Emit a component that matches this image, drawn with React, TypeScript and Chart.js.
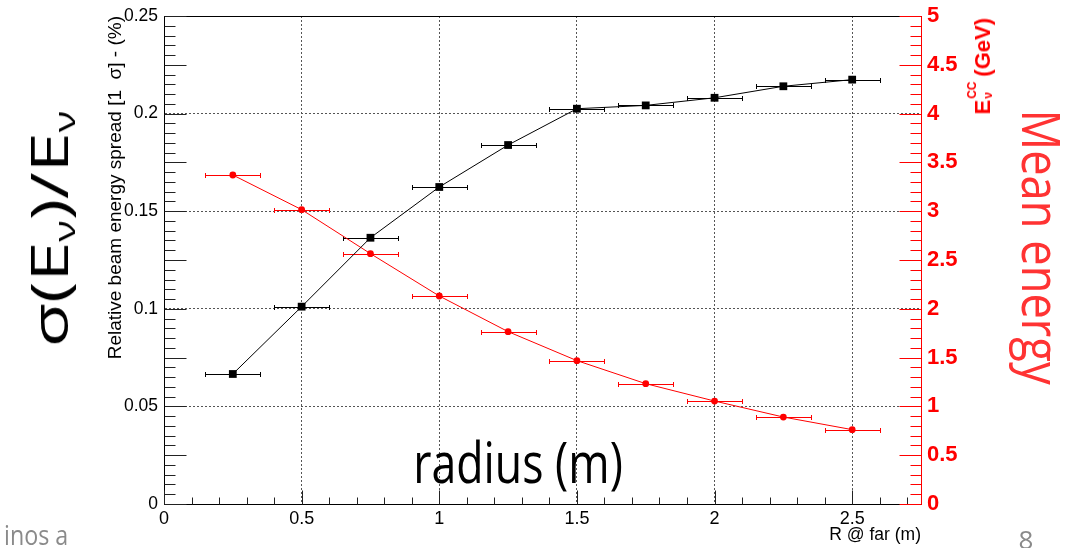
import React, { useEffect, useLayoutEffect, useRef, useState } from "react";
import { Chart, registerables } from "chart.js";

Chart.register(...registerables);

// ---------------- data ----------------
const radius = [0.25, 0.5, 0.75, 1.0, 1.25, 1.5, 1.75, 2.0, 2.25, 2.5];
const radiusErr = [0.1, 0.1, 0.1, 0.1, 0.1, 0.1, 0.1, 0.1, 0.1, 0.1];
const energySpread = [0.0666, 0.1011, 0.1364, 0.1624, 0.1839, 0.2025, 0.2042, 0.2081, 0.214, 0.2174];
const meanEnergy = [3.371, 3.016, 2.565, 2.131, 1.766, 1.469, 1.233, 1.055, 0.891, 0.762];

const xTicks = [0, 0.5, 1, 1.5, 2, 2.5];
const leftTicks = [0, 0.05, 0.1, 0.15, 0.2, 0.25];
const rightTicks = [0, 0.5, 1, 1.5, 2, 2.5, 3, 3.5, 4, 4.5, 5];
const xRange = [0, 2.75];
const leftRange = [0, 0.25];
const rightRange = [0, 5];
const xMinorStep = 0.1;
const leftMinorStep = 0.005;
const rightMinorStep = 0.1;

const SANS = "'Liberation Sans', Arial, Helvetica, sans-serif";
const COND = "'Open Sans', 'Noto Sans', sans-serif";

const fmt = (v: number) => String(Number(Number(v).toFixed(4)));

const rootPlugin = {
  id: "rootFrame",
  beforeDatasetsDraw(chart: any) {
    const { ctx, scales } = chart;
    const xs = scales.x;
    const series = [
      { yScale: scales.y, values: energySpread, color: "#000000" },
      { yScale: scales.y1, values: meanEnergy, color: "#ff0000" },
    ];
    ctx.save();
    ctx.lineWidth = 1;
    for (const s of series) {
      ctx.strokeStyle = s.color;
      ctx.beginPath();
      radius.forEach((r, i) => {
        const x1 = Math.round(xs.getPixelForValue(r - radiusErr[i])) + 0.5;
        const x2 = Math.round(xs.getPixelForValue(r + radiusErr[i])) + 0.5;
        const py = Math.round(s.yScale.getPixelForValue(s.values[i])) + 0.5;
        ctx.moveTo(x1, py);
        ctx.lineTo(x2, py);
        ctx.moveTo(x1, py - 2.5);
        ctx.lineTo(x1, py + 2.5);
        ctx.moveTo(x2, py - 2.5);
        ctx.lineTo(x2, py + 2.5);
      });
      ctx.stroke();
    }
    ctx.restore();
  },
  afterDatasetsDraw(chart: any) {
    const { ctx, chartArea: ca, scales } = chart;
    const L = Math.round(ca.left) + 0.5;
    const R = Math.round(ca.right) + 0.5;
    const T = Math.round(ca.top) + 0.5;
    const B = Math.round(ca.bottom) + 0.5;
    ctx.save();
    ctx.lineWidth = 1;
    ctx.setLineDash([]);
    // frame
    ctx.strokeStyle = "#000";
    ctx.beginPath();
    ctx.moveTo(L, B);
    ctx.lineTo(L, T);
    ctx.lineTo(R, T);
    ctx.moveTo(L, B);
    ctx.lineTo(R, B);
    ctx.stroke();

    // left ticks (inside)
    ctx.strokeStyle = "#222";
    ctx.beginPath();
    const nL = Math.round((leftRange[1] - leftRange[0]) / leftMinorStep);
    for (let k = 0; k <= nL; k++) {
      const v = leftRange[0] + k * leftMinorStep;
      const py = Math.round(scales.y.getPixelForValue(v)) + 0.5;
      const len = k % 5 === 0 ? 22 : 11;
      ctx.moveTo(L, py);
      ctx.lineTo(L + len, py);
    }
    ctx.stroke();

    // bottom ticks (inside)
    ctx.beginPath();
    const nX = Math.floor((xRange[1] - xRange[0]) / xMinorStep + 1e-6);
    for (let k = 0; k <= nX; k++) {
      const v = xRange[0] + k * xMinorStep;
      const px = Math.round(scales.x.getPixelForValue(v)) + 0.5;
      const len = k % 5 === 0 ? 14 : 7;
      ctx.moveTo(px, B);
      ctx.lineTo(px, B - len);
    }
    ctx.stroke();

    // right axis (red)
    ctx.strokeStyle = "#ff0000";
    ctx.beginPath();
    ctx.moveTo(R, T);
    ctx.lineTo(R, B);
    const nR = Math.round((rightRange[1] - rightRange[0]) / rightMinorStep);
    for (let k = 0; k <= nR; k++) {
      const v = rightRange[0] + k * rightMinorStep;
      const py = Math.round(scales.y1.getPixelForValue(v)) + 0.5;
      const len = k % 5 === 0 ? 22 : 11;
      ctx.moveTo(R, py);
      ctx.lineTo(R - len, py);
    }
    ctx.stroke();
    ctx.restore();
  },
};

function Overlay(props: {
  x: number;
  y: number;
  rotate?: number;
  length?: number;
  anchorX?: string;
  style?: React.CSSProperties;
  children: React.ReactNode;
}) {
  const { x, y, rotate = 0, length, anchorX = "-50%", style, children } = props;
  const ref = useRef<HTMLSpanElement>(null);
  const [s, setS] = useState(1);
  useLayoutEffect(() => {
    if (ref.current && length) {
      const w = ref.current.offsetWidth;
      if (w > 0) setS(length / w);
    }
  }, [length]);
  return (
    <span
      ref={ref}
      style={{
        position: "absolute",
        left: x,
        top: y,
        whiteSpace: "pre",
        lineHeight: 1,
        transformOrigin: "0 0",
        transform: `rotate(${rotate}deg) scaleX(${s}) translate(${anchorX}, -50%)`,
        ...style,
      }}
    >
      {children}
    </span>
  );
}

export default function App() {
  const canvasRef = useRef<HTMLCanvasElement>(null);

  useEffect(() => {
    const canvas = canvasRef.current;
    if (!canvas) return;
    const chart = new Chart(canvas, {
      type: "scatter",
      data: {
        datasets: [
          {
            label: "spread",
            yAxisID: "y",
            data: radius.map((r, i) => ({ x: r, y: energySpread[i] })),
            showLine: true,
            borderColor: "#000000",
            borderWidth: 1,
            backgroundColor: "#000000",
            pointStyle: "rect",
            pointRadius: 5.5,
            pointBorderWidth: 0,
            pointBackgroundColor: "#000000",
            tension: 0,
          },
          {
            label: "energy",
            yAxisID: "y1",
            data: radius.map((r, i) => ({ x: r, y: meanEnergy[i] })),
            showLine: true,
            borderColor: "#ff0000",
            borderWidth: 1,
            backgroundColor: "#ff0000",
            pointStyle: "circle",
            pointRadius: 3.4,
            pointBorderWidth: 0,
            pointBackgroundColor: "#ff0000",
            tension: 0,
          },
        ],
      },
      options: {
        responsive: false,
        animation: false,
        layout: { padding: { left: 0, right: 0, top: 16, bottom: 0 } },
        plugins: { legend: { display: false }, tooltip: { enabled: false } },
        scales: {
          x: {
            type: "linear",
            position: "bottom",
            min: xRange[0],
            max: xRange[1],
            afterBuildTicks: (s: any) => {
              s.ticks = xTicks.map((v) => ({ value: v }));
            },
            afterFit: (s: any) => {
              s.height = 44;
              s.paddingLeft = 0;
              s.paddingRight = 0;
              s.paddingTop = 0;
              s.paddingBottom = 0;
            },
            grid: {
              drawTicks: false,
              lineWidth: 1,
              color: (c: any) =>
                c.tick && (c.tick.value === xRange[0] || c.tick.value === xRange[1]) ? "rgba(0,0,0,0)" : "#555555",
            },
            border: { display: true, color: "#000", dash: [2, 2] },
            ticks: {
              autoSkip: false,
              maxRotation: 0,
              padding: 4,
              color: "#000",
              font: { family: SANS, size: 18 },
              callback: (v: any) => fmt(v),
            },
            title: {
              display: true,
              text: "R @ far (m)",
              align: "end",
              color: "#000",
              font: { family: SANS, size: 17.5 },
              padding: { top: 0, bottom: 2.5 },
            },
          },
          y: {
            type: "linear",
            position: "left",
            min: leftRange[0],
            max: leftRange[1],
            afterBuildTicks: (s: any) => {
              s.ticks = leftTicks.map((v) => ({ value: v }));
            },
            afterFit: (s: any) => {
              s.width = 164;
              s.paddingLeft = 0;
              s.paddingRight = 0;
              s.paddingTop = 0;
              s.paddingBottom = 0;
            },
            grid: {
              drawTicks: false,
              lineWidth: 1,
              color: (c: any) =>
                c.tick && (c.tick.value === leftRange[0] || c.tick.value === leftRange[1]) ? "rgba(0,0,0,0)" : "#555555",
            },
            border: { display: true, color: "#000", dash: [2, 2] },
            ticks: {
              autoSkip: false,
              padding: 6,
              color: "#000",
              font: { family: SANS, size: 17.5 },
              callback: (v: any) => fmt(v),
            },
            title: {
              display: true,
              text: "Relative beam energy spread [1  σ] - (%)",
              align: "end",
              color: "#000",
              font: { family: SANS, size: 19 },
              padding: { top: 104.5, bottom: 0 },
            },
          },
          y1: {
            type: "linear",
            position: "right",
            min: rightRange[0],
            max: rightRange[1],
            afterBuildTicks: (s: any) => {
              s.ticks = rightTicks.map((v) => ({ value: v }));
            },
            afterFit: (s: any) => {
              s.width = 146;
              s.paddingLeft = 0;
              s.paddingRight = 0;
              s.paddingTop = 0;
              s.paddingBottom = 0;
            },
            grid: { display: false, drawTicks: false, drawOnChartArea: false },
            border: { display: true, color: "#ff0000" },
            ticks: {
              autoSkip: false,
              padding: 6,
              color: "#ff0000",
              font: { family: SANS, size: 22, weight: "bold" },
              callback: (v: any) => fmt(v),
            },
          },
        },
      },
      plugins: [rootPlugin],
    } as any);
    return () => chart.destroy();
  }, []);

  const gray = "#8a8a8a";
  const subStyle: React.CSSProperties = { fontSize: "0.55em", verticalAlign: "-0.25em", lineHeight: 0 };

  return (
    <div
      style={{
        position: "fixed",
        left: 0,
        top: 0,
        width: 1067,
        height: 548,
        overflow: "hidden",
        background: "#fff",
      }}
    >
      <canvas ref={canvasRef} width={1067} height={548} style={{ position: "absolute", left: 0, top: 0 }} />

      {/* big left annotation */}
      <Overlay x={48} y={229} rotate={-90} length={236} style={{ fontFamily: COND, fontSize: 52, color: "#000" }}>
        σ(E<sub style={subStyle}>ν</sub>)/E<sub style={subStyle}>ν</sub>
      </Overlay>

      {/* right axis title */}
      <Overlay
        x={983}
        y={18}
        rotate={-90}
        anchorX="-100%"
        style={{ fontFamily: SANS, fontSize: 22, fontWeight: "bold", color: "#ff0000" }}
      >
        E
        <span style={{ display: "inline-block", position: "relative", width: 17, height: 15 }}>
          <span style={{ position: "absolute", left: 1, bottom: 12, fontSize: 12, lineHeight: 1 }}>CC</span>
          <span style={{ position: "absolute", left: 1, bottom: -4, fontSize: 12, lineHeight: 1 }}>ν</span>
        </span>
        {" (GeV)"}
      </Overlay>

      {/* Mean energy */}
      <Overlay x={1042} y={247} rotate={90} length={275} style={{ fontFamily: COND, fontSize: 53, color: "#ff3333" }}>
        Mean energy
      </Overlay>

      {/* radius (m) */}
      <Overlay x={518} y={461} length={210} style={{ fontFamily: COND, fontSize: 57, color: "#000" }}>
        radius (m)
      </Overlay>

      {/* slide fragments */}
      <Overlay x={4} y={534} length={64} anchorX="0" style={{ fontFamily: COND, fontSize: 28, color: gray }}>
        inos a
      </Overlay>
      <Overlay x={1026} y={539} style={{ fontFamily: COND, fontSize: 26, color: gray }}>
        8
      </Overlay>
    </div>
  );
}
